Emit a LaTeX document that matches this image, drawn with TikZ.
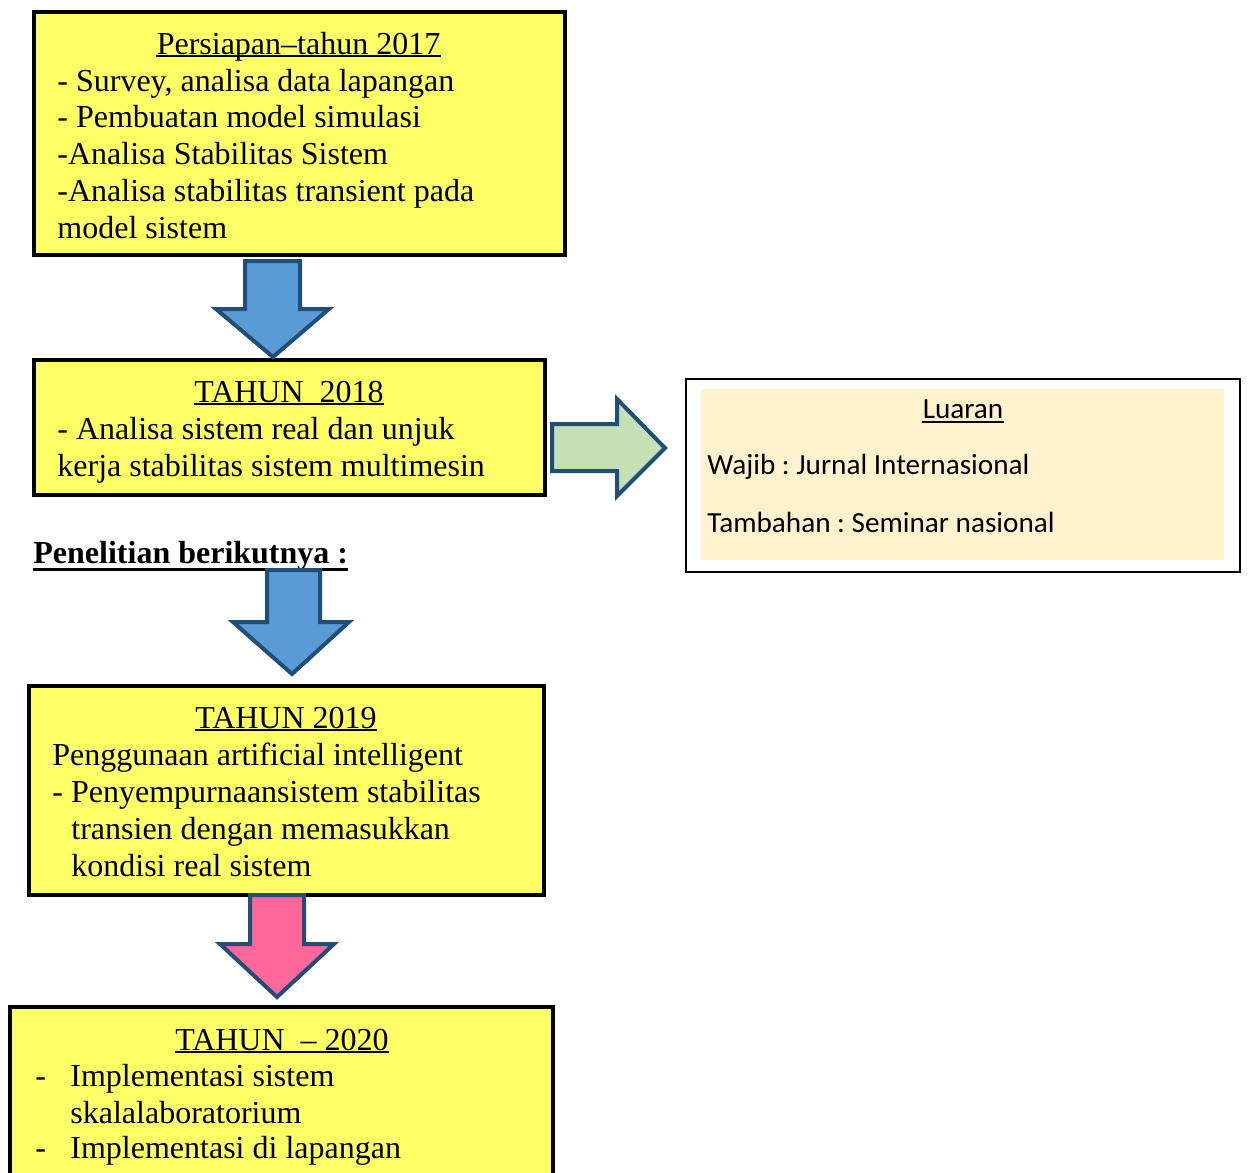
\documentclass[tikz,border=0pt]{standalone}
\usepackage{fontspec}
\setmainfont{Liberation Serif}
\newfontfamily\calibrifont{Carlito}
\frenchspacing
\definecolor{yfill}{HTML}{FFFF66}
\definecolor{bluefill}{HTML}{5B9BD5}
\definecolor{arrowline}{HTML}{1F4E79}
\definecolor{greenfill}{HTML}{C5E0B4}
\definecolor{pinkfill}{HTML}{FF6699}
\definecolor{creamfill}{HTML}{FFF2CC}
\begin{document}
\begin{tikzpicture}[x=0.5pt,y=-0.5pt,
  ybox/.style={draw=black, line width=2pt, fill=yfill, inner sep=0, outer sep=0, anchor=north west, rectangle},
  txt/.style={inner sep=0, font=\fontsize{16}{18}\selectfont, anchor=base west},
  ttl/.style={inner sep=0, font=\fontsize{16}{18}\selectfont, anchor=base},
  ctxt/.style={inner sep=0, font=\calibrifont\fontsize{14.6}{17}\selectfont, anchor=base west},
  blockarrow/.style={draw=arrowline, line width=2pt, line join=miter},
  ulline/.style={line width=1pt}
]
\useasboundingbox (0,0) rectangle (1248,1173);
\clip (0,0) rectangle (1248,1173);
\fill[white] (0,0) rectangle (1248,1173);

% boxes
\node[ybox, minimum width=265.5pt, minimum height=121.5pt] (b1) at (34,12) {};
\node[ybox, minimum width=255.5pt, minimum height=67.5pt] (b2) at (34,360) {};
\node[ybox, minimum width=257.5pt, minimum height=104.5pt] (b3) at (29,686) {};
\node[ybox, minimum width=271.5pt, minimum height=100pt] (b4) at (10,1007) {};
\node[draw=black, line width=1pt, fill=white, inner sep=0, outer sep=0, anchor=north west, minimum width=277pt, minimum height=96.5pt] (lu) at (686,379) {};
\node[fill=creamfill, inner sep=0, outer sep=0, anchor=north west, minimum width=261.5pt, minimum height=85.5pt] (luin) at (701,389) {};

% box 1 text
\node[ttl] (t1) at (298.5,54) {Persiapan--tahun 2017};
\draw[ulline] ([yshift=-1.2pt]t1.base west) -- ([yshift=-1.2pt]t1.base east);
\node[txt] (t1a) at (57,91) {- Survey, analisa data lapangan};
\node[txt] (t1b) at (57,127) {- Pembuatan model simulasi};
\node[txt] (t1c) at (57,164) {-Analisa Stabilitas Sistem};
\node[txt] (t1d) at (57,201) {-Analisa stabilitas transient pada};
\node[txt] (t1e) at (57,238) {model sistem};

% box 2 text
\node[ttl] (t2) at (289,402) {TAHUN\ \ 2018};
\draw[ulline] ([yshift=-1.2pt]t2.base west) -- ([yshift=-1.2pt]t2.base east);
\node[txt] (t2a) at (57,439) {- Analisa sistem real dan unjuk};
\node[txt] (t2b) at (57,476) {kerja stabilitas sistem multimesin};

% luaran text
\node[inner sep=0, font=\calibrifont\fontsize{14.6}{17}\selectfont, anchor=base] (lt) at (963,418) {Luaran};
\draw[line width=1pt] ([yshift=-2pt]lt.base west) -- ([yshift=-2pt]lt.base east);
\node[ctxt] (la) at (707,474) {Wajib : Jurnal Internasional};
\node[ctxt] (lb) at (707,532) {Tambahan : Seminar nasional};

% heading
\node[inner sep=0, font=\fontsize{16}{18}\selectfont\bfseries, anchor=base west] (pb) at (33,563) {Penelitian berikutnya :};
\draw[line width=1.5pt] ([yshift=-3pt]pb.base west) -- ([yshift=-3pt]pb.base east);

% box 3 text
\node[ttl] (t3) at (286,728) {TAHUN 2019};
\draw[ulline] ([yshift=-1.2pt]t3.base west) -- ([yshift=-1.2pt]t3.base east);
\node[txt] (t3a) at (52,765) {Penggunaan artificial intelligent};
\node[txt] (t3b) at (52,802) {- Penyempurnaansistem stabilitas};
\node[txt] (t3c) at (71,839) {transien dengan memasukkan};
\node[txt] (t3d) at (71,876) {kondisi real sistem};

% box 4 text
\node[ttl] (t4) at (282,1050) {TAHUN\ \ -- 2020};
\draw[ulline] ([yshift=-1.2pt]t4.base west) -- ([yshift=-1.2pt]t4.base east);
\node[txt] (d4a) at (35,1086) {-};
\node[txt] (t4a) at (70,1086) {Implementasi sistem};
\node[txt] (t4b) at (70,1123) {skalalaboratorium};
\node[txt] (d4c) at (35,1158) {-};
\node[txt] (t4c) at (70,1158) {Implementasi di lapangan};

% block arrows
\draw[blockarrow, fill=bluefill] (245,261) -- (300,261) -- (300,309) -- (329,309) -- (273,357) -- (216,309) -- (245,309) -- cycle;
\draw[blockarrow, fill=bluefill] (267,570) -- (320,570) -- (320,622) -- (349,622) -- (292,674) -- (233,622) -- (267,622) -- cycle;
\draw[blockarrow, fill=pinkfill] (250,895) -- (304,895) -- (304,944) -- (334,944) -- (277,997) -- (220,944) -- (250,944) -- cycle;
\draw[blockarrow, fill=greenfill] (552,424) -- (617,424) -- (617,399) -- (665,448) -- (617,496) -- (617,471) -- (552,471) -- cycle;
\end{tikzpicture}
\end{document}
